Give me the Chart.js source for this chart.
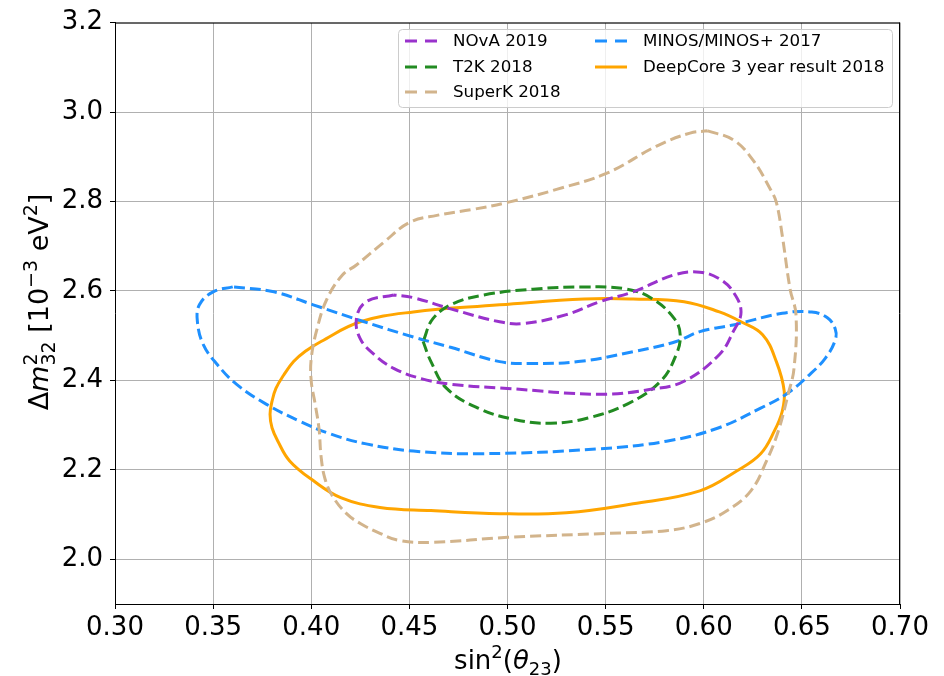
<!DOCTYPE html>
<html>
<head>
<meta charset="utf-8">
<script src="https://cdn.jsdelivr.net/npm/chart.js@4/dist/chart.umd.min.js"></script>
<style>
  body { margin: 0; background: #fff; }
  canvas { display: block; }
</style>
</head>
<body>
<canvas id="contourChart" width="944" height="676"></canvas>
<script>
// axis ticks
const xTicks = [0.30, 0.35, 0.40, 0.45, 0.50, 0.55, 0.60, 0.65, 0.70];
const yTicks = [2.0, 2.2, 2.4, 2.6, 2.8, 3.0, 3.2];

// contour points (sin^2 theta23, dm^2_32 in 1e-3 eV^2)
const novaX = [0.442, 0.428, 0.423, 0.425, 0.432, 0.442, 0.456, 0.472, 0.500, 0.547, 0.573, 0.590, 0.608, 0.615, 0.619, 0.615, 0.608, 0.598, 0.585, 0.564, 0.547, 0.530, 0.508, 0.496, 0.471, 0.452, 0.442];
const novaY = [2.591, 2.576, 2.538, 2.493, 2.458, 2.427, 2.404, 2.391, 2.382, 2.369, 2.380, 2.398, 2.458, 2.509, 2.553, 2.598, 2.627, 2.642, 2.636, 2.598, 2.576, 2.547, 2.527, 2.531, 2.560, 2.585, 2.591];

const t2kX = [0.457, 0.461, 0.469, 0.485, 0.503, 0.522, 0.541, 0.561, 0.578, 0.586, 0.588, 0.585, 0.574, 0.561, 0.539, 0.513, 0.488, 0.472, 0.462, 0.457];
const t2kY = [2.487, 2.442, 2.382, 2.338, 2.313, 2.304, 2.316, 2.347, 2.398, 2.458, 2.502, 2.538, 2.582, 2.604, 2.609, 2.604, 2.591, 2.571, 2.538, 2.487];

const superkX = [0.602, 0.615, 0.625, 0.634, 0.637, 0.640, 0.644, 0.647, 0.646, 0.643, 0.638, 0.632, 0.624, 0.612, 0.598, 0.581, 0.551, 0.500, 0.462, 0.445, 0.435, 0.425, 0.418, 0.411, 0.407, 0.405, 0.404, 0.402, 0.400, 0.400, 0.403, 0.408, 0.416, 0.423, 0.437, 0.450, 0.464, 0.482, 0.500, 0.525, 0.551, 0.576, 0.593, 0.602];
const superkY = [2.958, 2.938, 2.893, 2.827, 2.798, 2.724, 2.604, 2.547, 2.427, 2.369, 2.287, 2.220, 2.153, 2.109, 2.080, 2.064, 2.058, 2.049, 2.038, 2.042, 2.058, 2.080, 2.102, 2.140, 2.180, 2.230, 2.290, 2.347, 2.398, 2.449, 2.516, 2.582, 2.636, 2.658, 2.709, 2.753, 2.769, 2.782, 2.798, 2.827, 2.864, 2.924, 2.953, 2.958];

const minosX = [0.360, 0.350, 0.343, 0.342, 0.345, 0.352, 0.362, 0.377, 0.394, 0.410, 0.428, 0.452, 0.486, 0.547, 0.581, 0.607, 0.629, 0.642, 0.654, 0.662, 0.667, 0.667, 0.663, 0.655, 0.640, 0.615, 0.598, 0.586, 0.564, 0.536, 0.513, 0.496, 0.471, 0.452, 0.427, 0.401, 0.381, 0.360];
const minosY = [2.609, 2.598, 2.569, 2.531, 2.480, 2.436, 2.391, 2.347, 2.309, 2.280, 2.258, 2.242, 2.236, 2.247, 2.264, 2.293, 2.338, 2.369, 2.413, 2.450, 2.490, 2.515, 2.540, 2.553, 2.550, 2.524, 2.509, 2.487, 2.464, 2.442, 2.438, 2.442, 2.474, 2.497, 2.531, 2.569, 2.598, 2.609];

const deepcoreX = [0.496, 0.452, 0.425, 0.405, 0.397, 0.391, 0.386, 0.382, 0.380, 0.379, 0.380, 0.383, 0.389, 0.401, 0.415, 0.435, 0.461, 0.496, 0.530, 0.564, 0.598, 0.617, 0.629, 0.636, 0.640, 0.641, 0.637, 0.630, 0.619, 0.608, 0.590, 0.564, 0.539, 0.496];
const deepcoreY = [2.569, 2.553, 2.531, 2.487, 2.465, 2.442, 2.412, 2.382, 2.353, 2.324, 2.294, 2.264, 2.220, 2.176, 2.138, 2.116, 2.109, 2.102, 2.104, 2.124, 2.153, 2.198, 2.236, 2.287, 2.331, 2.376, 2.442, 2.502, 2.531, 2.553, 2.576, 2.582, 2.582, 2.569];

const FONT = "'DejaVu Sans', sans-serif";

function pts(xs, ys) {
    return xs.map((x, i) => ({ x: x, y: ys[i] }));
}

function contour(label, xs, ys, color, dashed) {
    return {
        label: label,
        data: pts(xs, ys),
        showLine: true,
        borderColor: color,
        backgroundColor: color,
        borderWidth: 3,
        borderDash: dashed ? [11, 5] : [],
        pointRadius: 0,
        tension: 0.4,
        fill: false
    };
}

// draw text made of pieces (super/subscripts, italics)
function drawRich(ctx, segs, cx, cy, angle, base) {
    ctx.save();
    ctx.translate(cx, cy);
    ctx.rotate(angle);
    let widths = [];
    let total = 0;
    let held = 0;
    segs.forEach(s => {
        ctx.font = (s.it ? "italic " : "") + Math.round(base * (s.s || 1)) + "px " + FONT;
        let w = ctx.measureText(s.t).width;
        widths.push(w);
        if (s.stay) { held = w; }
        else { total += Math.max(w, held); held = 0; }
    });
    let x = -total / 2;
    held = 0;
    ctx.fillStyle = "#000";
    ctx.textBaseline = "alphabetic";
    segs.forEach((s, i) => {
        ctx.font = (s.it ? "italic " : "") + Math.round(base * (s.s || 1)) + "px " + FONT;
        ctx.fillText(s.t, x, (s.dy || 0) * base);
        if (s.stay) { held = widths[i]; }
        else { x += Math.max(widths[i], held); held = 0; }
    });
    ctx.restore();
}

const extras = {
    id: "extras",
    afterDraw(chart) {
        const ctx = chart.ctx;
        const area = chart.chartArea;

        // top and right spines
        ctx.save();
        ctx.strokeStyle = "#000";
        ctx.lineWidth = 1;
        ctx.beginPath();
        ctx.moveTo(area.left, area.top + 0.5);
        ctx.lineTo(area.right, area.top + 0.5);
        ctx.moveTo(area.right - 0.5, area.top);
        ctx.lineTo(area.right - 0.5, area.bottom);
        ctx.stroke();
        ctx.restore();

        // axis titles
        drawRich(ctx, [
            { t: "sin" }, { t: "2", s: 0.7, dy: -0.42 }, { t: "(" },
            { t: "θ", it: true }, { t: "23", s: 0.7, dy: 0.22 }, { t: ")" }
        ], 508, 669, 0, 26);
        drawRich(ctx, [
            { t: "Δ" }, { t: "m", it: true },
            { t: "2", s: 0.7, dy: -0.42, stay: true }, { t: "32", s: 0.7, dy: 0.25 },
            { t: " [10" }, { t: "−3", s: 0.7, dy: -0.42 }, { t: " eV" },
            { t: "2", s: 0.7, dy: -0.42 }, { t: "]" }
        ], 48, 302, -Math.PI / 2, 27);

        // legend in two columns, upper right
        const boxX = 398, boxY = 29, boxW = 494, boxH = 78;
        ctx.save();
        ctx.fillStyle = "rgba(255,255,255,0.8)";
        ctx.strokeStyle = "#cccccc";
        ctx.lineWidth = 1;
        ctx.beginPath();
        ctx.roundRect(boxX + 0.5, boxY + 0.5, boxW, boxH, 4);
        ctx.fill();
        ctx.stroke();
        const cols = [{ lx: 405, tx: 453 }, { lx: 595, tx: 643 }];
        const rows = [41, 67, 92];
        const order = [[0, 0], [0, 1], [0, 2], [1, 0], [1, 1]];
        ctx.font = "16.7px " + FONT;
        ctx.textBaseline = "middle";
        chart.data.datasets.forEach((ds, i) => {
            const c = cols[order[i][0]];
            const y = rows[order[i][1]];
            ctx.strokeStyle = ds.borderColor;
            ctx.lineWidth = 3;
            ctx.setLineDash(ds.borderDash.length ? [12, 8] : []);
            ctx.beginPath();
            ctx.moveTo(c.lx, y);
            ctx.lineTo(c.lx + 32, y);
            ctx.stroke();
            ctx.setLineDash([]);
            ctx.fillStyle = "#000";
            ctx.fillText(ds.label, c.tx, y + 1);
        });
        ctx.restore();
    }
};

new Chart(document.getElementById("contourChart").getContext("2d"), {
    type: "scatter",
    data: {
        datasets: [
            contour("NOvA 2019", novaX, novaY, "#9932CC", true),
            contour("T2K 2018", t2kX, t2kY, "#228B22", true),
            contour("SuperK 2018", superkX, superkY, "#D2B48C", true),
            contour("MINOS/MINOS+ 2017", minosX, minosY, "#1E90FF", true),
            contour("DeepCore 3 year result 2018", deepcoreX, deepcoreY, "#FFA500", false)
        ]
    },
    options: {
        responsive: false,
        animation: false,
        devicePixelRatio: 1,
        layout: { padding: { top: 19, right: 44, left: 0, bottom: 0 } },
        plugins: { legend: { display: false }, tooltip: { enabled: false } },
        scales: {
            x: {
                type: "linear",
                min: 0.30,
                max: 0.70,
                afterBuildTicks: scale => { scale.ticks = xTicks.map(v => ({ value: v })); },
                afterFit: scale => { scale.height = 72; },
                ticks: {
                    color: "#000",
                    font: { family: FONT, size: 26 },
                    padding: 4,
                    maxRotation: 0,
                    callback: v => v.toFixed(2)
                },
                grid: { color: "#b0b0b0", lineWidth: 1, tickColor: "#000", tickLength: 5 },
                border: { color: "#000", width: 1 }
            },
            y: {
                type: "linear",
                min: 1.9,
                max: 3.2,
                afterBuildTicks: scale => { scale.ticks = yTicks.map(v => ({ value: v })); },
                afterFit: scale => { scale.width = 115; },
                ticks: {
                    color: "#000",
                    font: { family: FONT, size: 26 },
                    padding: 7,
                    callback: v => v.toFixed(1)
                },
                grid: { color: "#b0b0b0", lineWidth: 1, tickColor: "#000", tickLength: 5 },
                border: { color: "#000", width: 1 }
            }
        }
    },
    plugins: [extras]
});
</script>
</body>
</html>
